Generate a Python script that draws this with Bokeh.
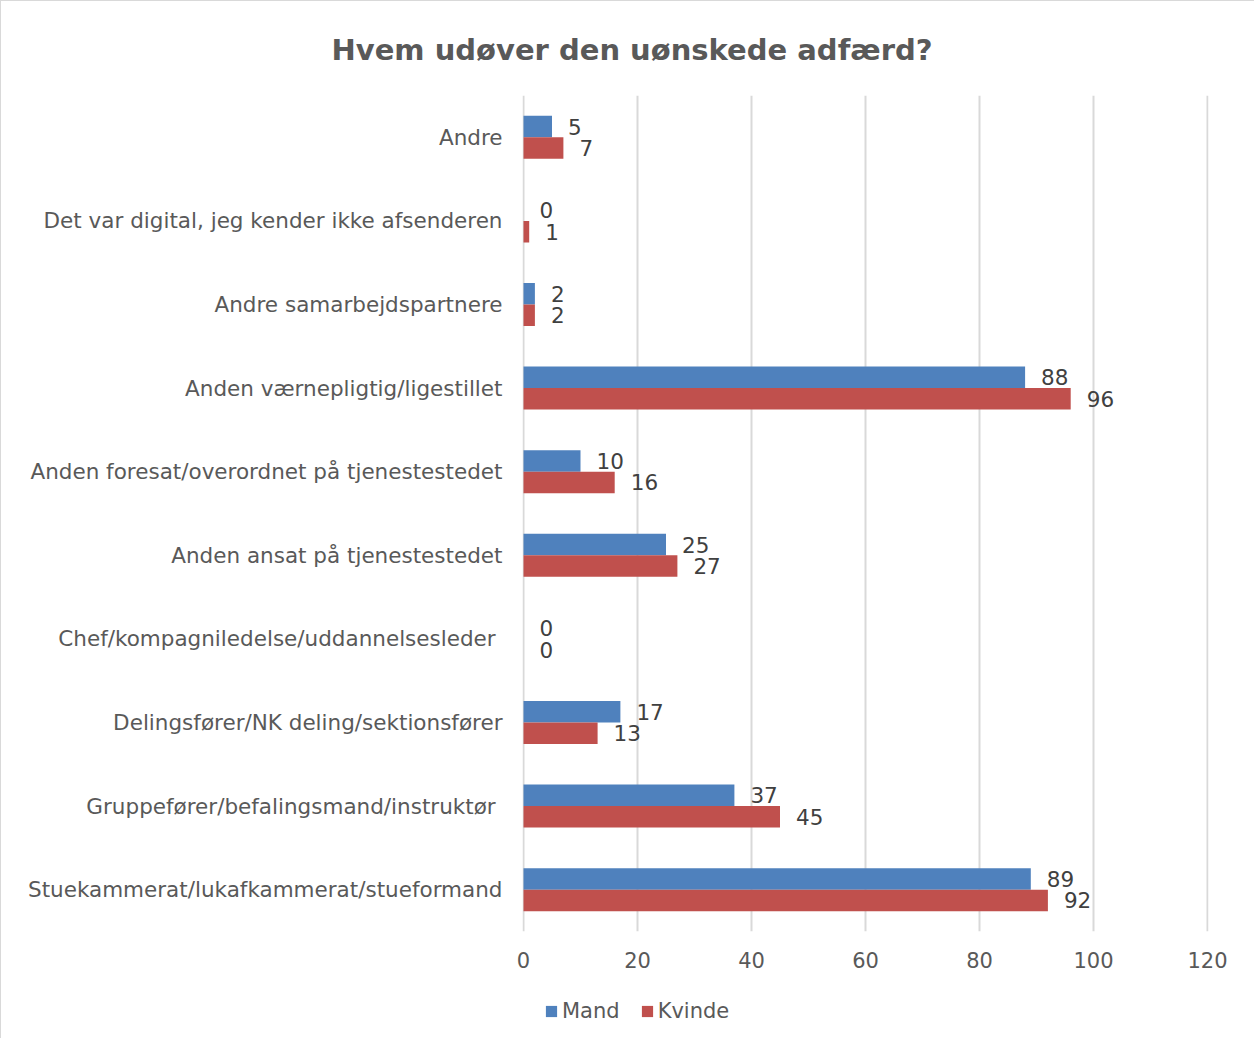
from bokeh.plotting import figure
from bokeh.layouts import column
from bokeh.models import Range1d, FixedTicker, Legend, LegendItem, ColumnDataSource, Title
from bokeh.embed import file_html
from bokeh.resources import INLINE
from bokeh.core.properties import value

categories = [
    "Andre",
    "Det var digital, jeg kender ikke afsenderen",
    "Andre samarbejdspartnere",
    "Anden værnepligtig/ligestillet",
    "Anden foresat/overordnet på tjenestestedet",
    "Anden ansat på tjenestestedet",
    "Chef/kompagniledelse/uddannelsesleder ",
    "Delingsfører/NK deling/sektionsfører",
    "Gruppefører/befalingsmand/instruktør ",
    "Stuekammerat/lukafkammerat/stueformand",
]
mand = [5, 0, 2, 88, 10, 25, 0, 17, 37, 89]
kvinde = [7, 1, 2, 96, 16, 27, 0, 13, 45, 92]
series_names = ["Mand", "Kvinde"]
x_ticks = [0, 20, 40, 60, 80, 100, 120]
title_text = "Hvem udøver den uønskede adfærd?"

FONT = "DejaVu Sans"
GREY = "#595959"
BLUE = "#4f81bd"
RED = "#c0504d"
BH = 0.257

pos = list(range(len(categories)))
src_m = ColumnDataSource(dict(y=[p - BH / 2 for p in pos], v=mand, t=[str(v) for v in mand]))
src_k = ColumnDataSource(dict(y=[p + BH / 2 for p in pos], v=kvinde, t=[str(v) for v in kvinde]))

p = figure(width=1253, height=984, output_backend="svg", toolbar_location=None,
           x_range=Range1d(-0.175, 120.175), y_range=Range1d(len(categories) - 0.5, -0.5),
           min_border_left=521, min_border_right=46, min_border_top=94, min_border_bottom=54)
p.outline_line_color = None
p.background_fill_color = "white"
p.border_fill_color = "white"

p.hbar(y="y", right="v", left=0, height=BH, source=src_m, fill_color=BLUE, line_color=None)
p.hbar(y="y", right="v", left=0, height=BH, source=src_k, fill_color=RED, line_color=None)

for src in (src_m, src_k):
    p.text(x="v", y="y", text="t", source=src, x_offset=16, text_align="left",
           text_baseline="middle", text_font=value(FONT), text_font_size="21.5px",
           text_color="#404040")

p.xaxis.ticker = FixedTicker(ticks=x_ticks)
p.xaxis.axis_line_color = None
p.xaxis.major_tick_line_color = None
p.xaxis.minor_tick_line_color = None
p.xaxis.major_tick_out = 0
p.xaxis.major_label_standoff = 20
p.xaxis.major_label_text_font = FONT
p.xaxis.major_label_text_font_size = "21px"
p.xaxis.major_label_text_color = GREY

p.yaxis.ticker = FixedTicker(ticks=pos)
p.yaxis.major_label_overrides = {i: c for i, c in enumerate(categories)}
p.yaxis.axis_line_color = None
p.yaxis.major_tick_line_color = None
p.yaxis.minor_tick_line_color = None
p.yaxis.major_tick_out = 0
p.yaxis.major_label_standoff = 20
p.yaxis.major_label_text_font = FONT
p.yaxis.major_label_text_font_size = "21.5px"
p.yaxis.major_label_text_color = GREY

p.xgrid.ticker = FixedTicker(ticks=x_ticks)
p.xgrid.grid_line_color = "#d9d9d9"
p.xgrid.grid_line_width = 2
p.ygrid.grid_line_color = None

p.add_layout(Title(text=title_text, align="left", offset=-191, standoff=57,
                   text_font=FONT, text_font_size="29px", text_font_style="bold",
                   text_color=GREY), "above")

# legend strip below the chart (its frame is aligned with the chart's frame);
# the bars drawn here fall far outside its ranges, only the legend shows
lf = figure(width=1253, height=53, output_backend="svg", toolbar_location=None,
            x_range=Range1d(200, 201), y_range=Range1d(200, 201),
            x_axis_type=None, y_axis_type=None,
            min_border_left=0, min_border_right=0, min_border_top=0, min_border_bottom=0)
lf.outline_line_color = None
lf.background_fill_color = "white"
lf.border_fill_color = "white"
lf.grid.visible = False
l_m = lf.hbar(y="y", right="v", left=0, height=BH, source=src_m, fill_color=BLUE, line_color=None)
l_k = lf.hbar(y="y", right="v", left=0, height=BH, source=src_k, fill_color=RED, line_color=None)
legend = Legend(items=[LegendItem(label=series_names[0], renderers=[l_m]),
                       LegendItem(label=series_names[1], renderers=[l_k])],
                orientation="horizontal", location=(22, 15),
                glyph_width=14, glyph_height=14, label_standoff=4, spacing=20,
                padding=0, margin=0, border_line_color=None, background_fill_alpha=0,
                label_text_font=FONT, label_text_font_size="21px", label_text_color=GREY)
lf.add_layout(legend, "center")

layout = column(p, lf, spacing=0)
layout.styles = {"border-left": "1px solid #d9d9d9", "border-top": "1px solid #d9d9d9"}

open("out.html", "w").write(file_html(layout, INLINE))
